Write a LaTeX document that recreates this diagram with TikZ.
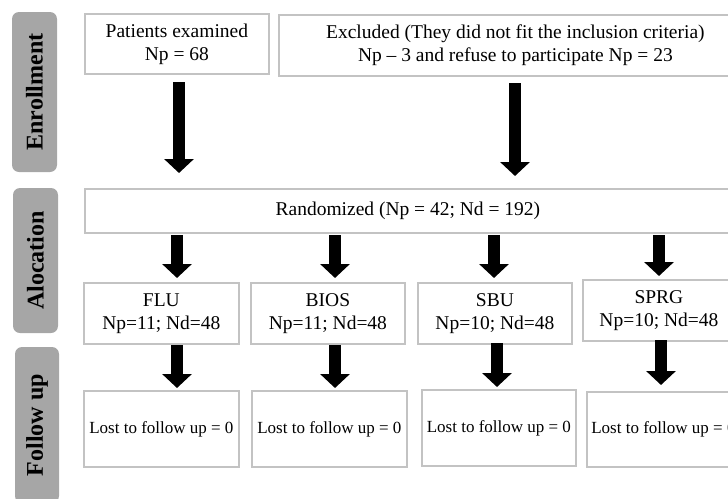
\documentclass[tikz,border=0pt]{standalone}
\usepackage{fontspec}
\setmainfont{Liberation Serif}
\usetikzlibrary{arrows.meta}
\definecolor{labelgrey}{RGB}{166,166,166}
\definecolor{boxgrey}{RGB}{195,195,195}
\tikzset{
  box/.style={draw=boxgrey, line width=1.8pt, fill=white, anchor=north west, align=center, inner sep=0pt, font=\fontsize{19.5}{23}\selectfont},
  lostbox/.style={box, font=\fontsize{17}{20}\selectfont},
  sidelabel/.style={fill=labelgrey, rounded corners=7pt, rotate=90, inner sep=0pt, font=\bfseries\fontsize{24}{28}\selectfont},
  bigarrow/.style={draw=black, line width=12.5pt, -{Triangle[width=29pt,length=14pt]}},
}
\begin{document}
\begin{tikzpicture}[x=1pt,y=-1pt]
\useasboundingbox (0,0) rectangle (728,498);
% side labels
\node[sidelabel, minimum width=160pt, minimum height=45pt] (lenr) at (34.5,92) {Enrollment};
\node[sidelabel, minimum width=145pt, minimum height=45pt] (lalo) at (35.5,260.5) {Alocation};
\node[sidelabel, minimum width=156pt, minimum height=44pt] (lfol) at (37,425) {Follow up};
% boxes
\node[box, minimum width=184pt, minimum height=60pt] (pat) at (84,13) {Patients examined\\Np = 68};
\node[box, minimum width=473pt, minimum height=61pt] (exc) at (278,14) {Excluded (They did not fit the inclusion criteria)\\Np -- 3 and refuse to participate Np = 23};
\node[box, minimum width=646pt, minimum height=44pt] (rnd) at (84,188) {Randomized (Np = 42; Nd = 192)};
\node[box, minimum width=155pt, minimum height=61pt] (flu) at (83,282) {FLU\\Np=11; Nd=48};
\node[box, minimum width=154pt, minimum height=61pt] (bios) at (250,282) {BIOS\\Np=11; Nd=48};
\node[box, minimum width=154pt, minimum height=61pt] (sbu) at (417,282) {SBU\\Np=10; Nd=48};
\node[box, minimum width=152pt, minimum height=61pt] (sprg) at (582,279) {SPRG\\Np=10; Nd=48};
\node[lostbox, minimum width=155pt, minimum height=76pt] (lost1) at (83,390) {Lost to follow up = 0};
\node[lostbox, minimum width=155pt, minimum height=76pt] (lost2) at (251,390) {Lost to follow up = 0};
\node[lostbox, minimum width=154pt, minimum height=76pt] (lost3) at (421,389) {Lost to follow up = 0};
\node[lostbox, minimum width=153pt, minimum height=75pt] (lost4) at (586,391) {Lost to follow up = 0};
% arrow ends
\coordinate (a1s) at (179,82);  \coordinate (a1e) at (179,173);
\coordinate (a2s) at (515,83);  \coordinate (a2e) at (515,176);
\coordinate (b1s) at (177,235); \coordinate (b1e) at (177,278);
\coordinate (b2s) at (335,235); \coordinate (b2e) at (335,278);
\coordinate (b3s) at (494,235); \coordinate (b3e) at (494,278);
\coordinate (b4s) at (659,235); \coordinate (b4e) at (659,276);
\coordinate (c1s) at (177,345); \coordinate (c1e) at (177,388);
\coordinate (c2s) at (335,345); \coordinate (c2e) at (335,388);
\coordinate (c3s) at (497,343); \coordinate (c3e) at (497,387);
\coordinate (c4s) at (661,340); \coordinate (c4e) at (661,385);
\foreach \a in {a1,a2,b1,b2,b3,b4,c1,c2,c3,c4}
  \draw[bigarrow] (\a s) -- (\a e);
\end{tikzpicture}
\end{document}
